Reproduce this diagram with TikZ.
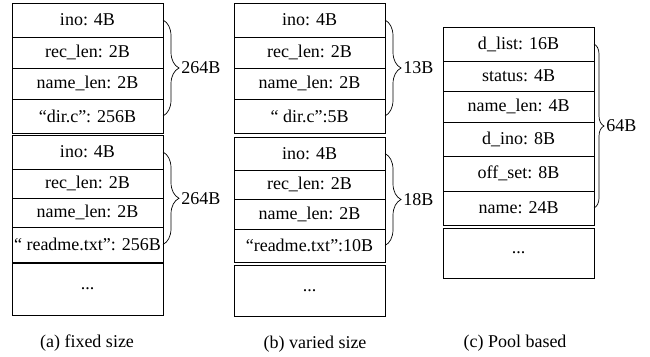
\documentclass[tikz,border=0pt]{standalone}
\usepackage{fontspec}
\setmainfont{Liberation Serif}
\usetikzlibrary{decorations.pathreplacing}
\begin{document}
\begin{tikzpicture}[x=1pt,y=-1pt,
  cell/.style={draw, line width=0.8pt, minimum width=151pt, inner sep=0pt, outer sep=0pt, anchor=north west, font=\fontsize{18}{21}\selectfont},
  cellc/.style={cell, minimum width=151pt},
  brc/.style={decorate, line width=0.7pt, decoration={brace, amplitude=16pt, aspect=0.5}},
  brcsmall/.style={decorate, line width=0.7pt, decoration={brace, amplitude=10pt, aspect=0.5}},
  lbl/.style={anchor=west, inner sep=0pt, font=\fontsize{18}{21}\selectfont},
  captext/.style={inner sep=0pt, font=\fontsize{18}{21}\selectfont}]
\useasboundingbox (0,0) rectangle (650,356);
% ---------- column (a)
\node[cell, minimum height=34pt] (a11) at (12,3) {ino: 4B};
\node[cell, minimum height=31pt] (a12) at (12,37) {rec\_len: 2B};
\node[cell, minimum height=31pt] (a13) at (12,68) {name\_len: 2B};
\node[cell, minimum height=34pt] (a14) at (12,99) {“dir.c”: 256B};
\node[cell, minimum height=34pt] (a21) at (12,135) {ino: 4B};
\node[cell, minimum height=29pt] (a22) at (12,169) {rec\_len: 2B};
\node[cell, minimum height=29pt] (a23) at (12,198) {name\_len: 2B};
\node[cell, minimum height=35pt] (a24) at (12,227) {“ readme.txt”: 256B};
\node[cell, minimum height=52pt] (a3) at (12,263) {...};
\draw[brc] (a11.east) -- (a14.east) node[lbl, midway, xshift=18pt] (la1) {264B};
\draw[brc] (a21.east) -- (a24.east) node[lbl, midway, xshift=18pt] (la2) {264B};
\node[captext] (capa) at (87,343) {(a) fixed size};
% ---------- column (b)
\node[cell, minimum height=34pt] (b11) at (234,3) {ino: 4B};
\node[cell, minimum height=31pt] (b12) at (234,37) {rec\_len: 2B};
\node[cell, minimum height=31pt] (b13) at (234,68) {name\_len: 2B};
\node[cell, minimum height=34pt] (b14) at (234,99) {“ dir.c”:5B};
\node[cell, minimum height=33pt] (b21) at (234,137) {ino: 4B};
\node[cell, minimum height=29pt] (b22) at (234,170) {rec\_len: 2B};
\node[cell, minimum height=30pt] (b23) at (234,199) {name\_len: 2B};
\node[cell, minimum height=33pt] (b24) at (234,229) {“readme.txt”:10B};
\node[cell, minimum height=51pt] (b3) at (234,265) {...};
\draw[brc] (b11.east) -- (b14.east) node[lbl, midway, xshift=18pt] (lb1) {13B};
\draw[brc] (b21.east) -- (b24.east) node[lbl, midway, xshift=18pt] (lb2) {18B};
\node[captext] (capb) at (315,344) {(b) varied size};
% ---------- column (c)
\node[cellc, minimum height=34pt] (c1) at (443,27) {d\_list: 16B};
\node[cellc, minimum height=30pt] (c2) at (443,61) {status: 4B};
\node[cellc, minimum height=31pt] (c3) at (443,91) {name\_len: 4B};
\node[cellc, minimum height=34pt] (c4) at (443,122) {d\_ino: 8B};
\node[cellc, minimum height=35pt] (c5) at (443,156) {off\_set: 8B};
\node[cellc, minimum height=34pt] (c6) at (443,191) {name: 24B};
\node[cellc, minimum height=50pt] (c7) at (443,228) {...};
\draw[brcsmall] (c1.east) -- (c6.east) node[lbl, midway, xshift=12pt] (lc) {64B};
\node[captext] (capc) at (515,343) {(c) Pool based};
\end{tikzpicture}
\end{document}
